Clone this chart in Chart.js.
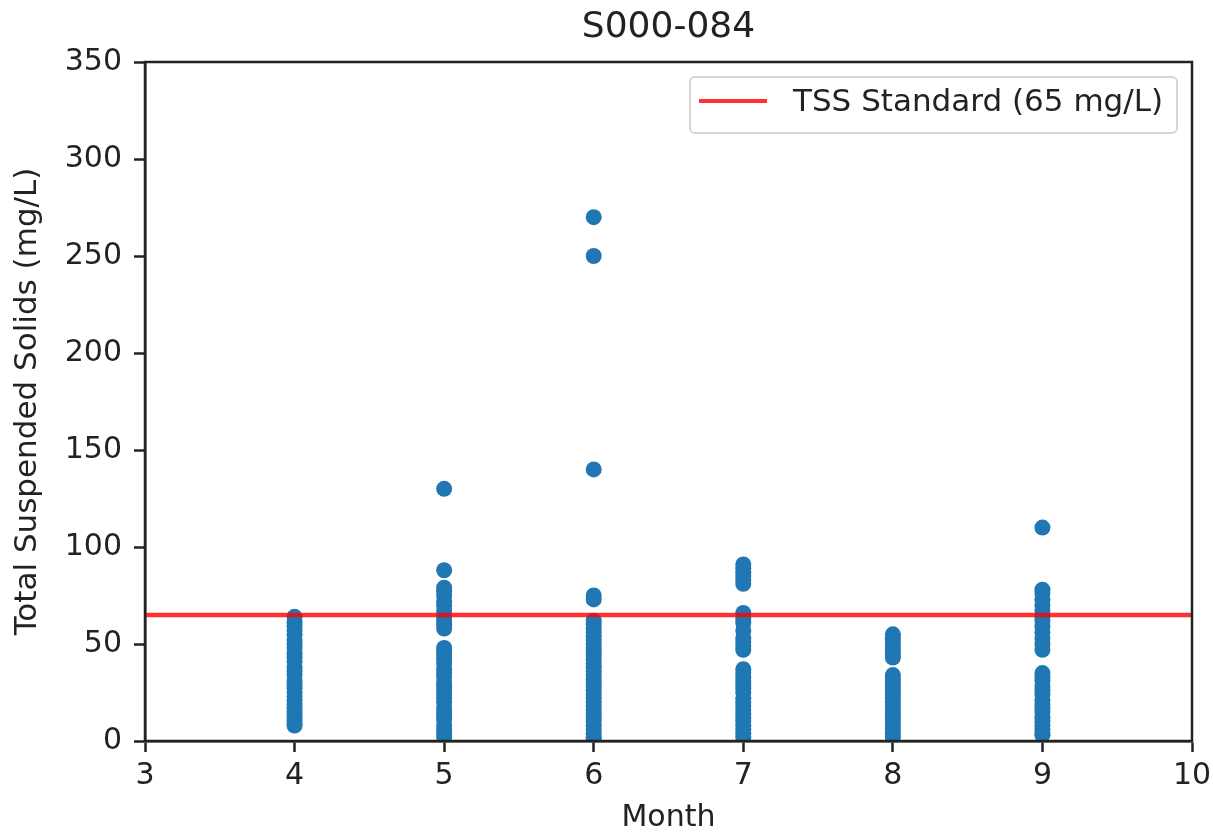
<!DOCTYPE html>
<html>
<head>
<meta charset="utf-8">
<script src="https://cdn.jsdelivr.net/npm/chart.js@4/dist/chart.umd.min.js"></script>
<style>
  html, body { margin: 0; padding: 0; background: #fff; }
  #wrap { width: 1213px; height: 836px; }
</style>
</head>
<body>
<div id="wrap"><canvas id="myChart" width="1213" height="836"></canvas></div>
<script>
// TSS samples per month (mg/L)
const month4 = [64, 61, 59, 57, 55, 52, 50, 48, 45, 43, 41, 38, 36, 34, 31, 29, 27, 25, 23, 21, 19, 17, 15, 13, 11, 9, 8];
const month5 = [130, 88, 79, 77, 75, 72, 70, 67, 64, 62, 60, 58, 48, 46, 44, 42, 40, 37, 35, 33, 30, 28, 26, 24, 22, 20, 17, 15, 13, 11, 8, 6, 4, 2];
const month6 = [270, 250, 140, 75, 73, 62, 60, 58, 56, 54, 52, 50, 48, 46, 44, 42, 40, 38, 36, 34, 32, 30, 28, 26, 24, 22, 20, 18, 16, 14, 12, 10, 8, 6, 4, 2, 1];
const month7 = [91, 89, 87, 85, 83, 81, 66, 63, 61, 57, 53, 51, 49, 47, 37, 35, 33, 31, 29, 27, 25, 22, 20, 18, 16, 14, 12, 10, 8, 6, 4, 2];
const month8 = [55, 53, 51, 49, 47, 45, 43, 34, 32, 30, 28, 26, 24, 22, 20, 18, 16, 14, 12, 10, 8, 6, 4, 2];
const month9 = [110, 78, 76, 73, 70, 67, 64, 62, 59, 56, 53, 50, 47, 35, 33, 31, 28, 26, 24, 21, 19, 17, 15, 12, 10, 8, 6, 4, 3];

const months = [4, 5, 6, 7, 8, 9];
const samplesByMonth = [month4, month5, month6, month7, month8, month9];

const tssStandard = 65;
const xRange = [3, 10];
const yRange = [0, 350];
const chartTitle = "S000-084";
const legendLabel = "TSS Standard (65 mg/L)";

const FONT = "'DejaVu Sans', sans-serif";
const INK = "#222";

// flatten into scatter points
const points = [];
samplesByMonth.forEach((vals, i) => {
  vals.forEach((v) => points.push({ x: months[i], y: v }));
});

// frame, title and inset legend (matplotlib look)
const decorPlugin = {
  id: "decor",
  afterDatasetsDraw(chart) {
    const { ctx, chartArea: a } = chart;
    ctx.save();
    // full box spines
    ctx.strokeStyle = INK;
    ctx.lineWidth = 2.5;
    ctx.strokeRect(a.left, a.top, a.right - a.left, a.bottom - a.top);

    // title
    ctx.fillStyle = INK;
    ctx.font = "36px " + FONT;
    ctx.textAlign = "center";
    ctx.textBaseline = "middle";
    ctx.fillText(chartTitle, (a.left + a.right) / 2, 28);

    // legend box
    const bw = 487, bh = 56;
    const bx = a.right - 15 - bw, by = a.top + 15;
    ctx.beginPath();
    ctx.roundRect(bx, by, bw, bh, 5);
    ctx.fillStyle = "rgba(255,255,255,0.8)";
    ctx.fill();
    ctx.strokeStyle = "#d4d4d4";
    ctx.lineWidth = 2;
    ctx.stroke();

    ctx.beginPath();
    ctx.moveTo(bx + 9, by + 24);
    ctx.lineTo(bx + 77, by + 24);
    ctx.strokeStyle = "rgba(255,0,0,0.8)";
    ctx.lineWidth = 4;
    ctx.stroke();

    ctx.fillStyle = INK;
    ctx.font = "31px " + FONT;
    ctx.textAlign = "left";
    ctx.fillText(legendLabel, bx + 103, by + 26);
    ctx.restore();
  },
};

const ctx = document.getElementById("myChart").getContext("2d");
new Chart(ctx, {
  type: "scatter",
  data: {
    datasets: [
      {
        type: "line",
        label: legendLabel,
        data: [
          { x: xRange[0], y: tssStandard },
          { x: xRange[1], y: tssStandard },
        ],
        borderColor: "rgba(255,0,0,0.8)",
        borderWidth: 4.5,
        pointRadius: 0,
        fill: false,
      },
      {
        label: "TSS",
        data: points,
        backgroundColor: "#1f77b4",
        borderColor: "#1f77b4",
        borderWidth: 0,
        pointRadius: 8,
      },
    ],
  },
  options: {
    responsive: false,
    animation: false,
    layout: { padding: { top: 62, right: 21, left: 0, bottom: 0 } },
    plugins: {
      legend: { display: false },
      title: { display: false },
      tooltip: { enabled: false },
    },
    scales: {
      x: {
        type: "linear",
        min: xRange[0],
        max: xRange[1],
        ticks: { stepSize: 1, color: INK, font: { family: FONT, size: 30 }, padding: 6, maxRotation: 0 },
        grid: { drawOnChartArea: false, drawTicks: true, tickLength: 11, tickColor: INK, tickWidth: 2.5 },
        border: { display: true, color: INK, width: 2.5 },
        title: { display: true, text: "Month", color: INK, font: { family: FONT, size: 30 }, padding: { top: 0, bottom: 0 } },
        afterFit: (scale) => {
          scale.height = 95;
          scale.paddingLeft = 0;
          scale.paddingRight = 0;
        },
      },
      y: {
        type: "linear",
        min: yRange[0],
        max: yRange[1],
        ticks: { stepSize: 50, color: INK, font: { family: FONT, size: 30 }, padding: 12 },
        grid: { drawOnChartArea: false, drawTicks: true, tickLength: 11, tickColor: INK, tickWidth: 2.5 },
        border: { display: true, color: INK, width: 2.5 },
        title: { display: true, text: "Total Suspended Solids (mg/L)", color: INK, font: { family: FONT, size: 31 }, padding: { top: 9, bottom: 4 } },
        afterFit: (scale) => {
          scale.width = 145;
          scale.paddingTop = 0;
          scale.paddingBottom = 0;
        },
      },
    },
  },
  plugins: [decorPlugin],
});
</script>
</body>
</html>
